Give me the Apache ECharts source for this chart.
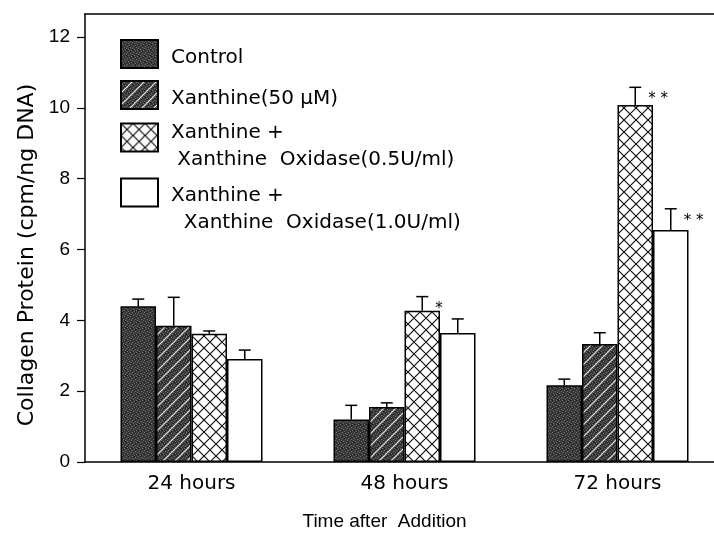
<!DOCTYPE html>
<html>
<head>
<meta charset="utf-8">
<script src="https://cdn.jsdelivr.net/npm/echarts@6/dist/echarts.min.js"></script>
<style>
  html, body { margin: 0; padding: 0; background: #fff; }
  #chart { width: 714px; height: 533px; }
</style>
</head>
<body>
<div id="chart"></div>
<script>
// Collagen protein vs time after addition

const categories = ['24 hours', '48 hours', '72 hours'];
const seriesNames = [
    'Control',
    'Xanthine(50 µM)',
    'Xanthine + Xanthine Oxidase(0.5U/ml)',
    'Xanthine + Xanthine Oxidase(1.0U/ml)'
];
const controlVals = [4.4, 1.2, 2.17];
const controlErr = [0.2, 0.4, 0.17];
const xanthineVals = [3.85, 1.55, 3.33];
const xanthineErr = [0.8, 0.12, 0.32];
const xo05Vals = [3.62, 4.27, 10.08];
const xo05Err = [0.08, 0.4, 0.5];
const xo10Vals = [2.91, 3.64, 6.55];
const xo10Err = [0.25, 0.4, 0.6];
const xo05Stars = ['', '*', '**'];
const xo10Stars = ['', '', '**'];
const yTicks = [0, 2, 4, 6, 8, 10, 12];

const BAR_W = 35.5;
const TEXT_FONT = 'DejaVu Sans';

// Build a small repeating canvas for bar fills
function makePattern(size, draw) {
    const c = document.createElement('canvas');
    c.width = size;
    c.height = size;
    draw(c.getContext('2d'), size);
    return c;
}

function halftone(ctx, size) {
    ctx.fillStyle = '#3a3a3a';
    ctx.fillRect(0, 0, size, size);
    ctx.fillStyle = '#6e6e6e';
    [[0, 0], [3, 1], [1, 3], [4, 4], [2, 5], [5, 2]].forEach(p => {
        if (p[0] < size && p[1] < size) ctx.fillRect(p[0], p[1], 1, 1);
    });
    ctx.fillStyle = '#1c1c1c';
    [[2, 0], [5, 3], [0, 4], [3, 5]].forEach(p => {
        if (p[0] < size && p[1] < size) ctx.fillRect(p[0], p[1], 1, 1);
    });
}

const controlFill = makePattern(6, halftone);

const xanthineFill = makePattern(12, (ctx, s) => {
    for (let x = 0; x < s; x += 6) {
        for (let y = 0; y < s; y += 6) {
            ctx.drawImage(controlFill, x, y);
        }
    }
    ctx.strokeStyle = '#e8e8e8';
    ctx.lineWidth = 1.1;
    ctx.beginPath();
    ctx.moveTo(0, s); ctx.lineTo(s, 0);
    ctx.moveTo(-2, 2); ctx.lineTo(2, -2);
    ctx.moveTo(s - 2, s + 2); ctx.lineTo(s + 2, s - 2);
    ctx.stroke();
});

const crossFill = makePattern(12, (ctx, s) => {
    ctx.fillStyle = '#fff';
    ctx.fillRect(0, 0, s, s);
    ctx.strokeStyle = '#111';
    ctx.lineWidth = 1.2;
    ctx.beginPath();
    ctx.moveTo(0, 0); ctx.lineTo(s, s);
    ctx.moveTo(0, s); ctx.lineTo(s, 0);
    ctx.stroke();
});

const fills = [
    { image: controlFill, repeat: 'repeat' },
    { image: xanthineFill, repeat: 'repeat' },
    { image: crossFill, repeat: 'repeat' },
    '#ffffff'
];
const values = [controlVals, xanthineVals, xo05Vals, xo10Vals];
const errors = [controlErr, xanthineErr, xo05Err, xo10Err];
const stars = [null, null, xo05Stars, xo10Stars];

function barSeries(idx) {
    return {
        name: seriesNames[idx],
        type: 'bar',
        barWidth: BAR_W,
        barGap: '0%',
        data: values[idx],
        itemStyle: {
            color: fills[idx],
            borderColor: '#000',
            borderWidth: 1.5
        },
        emphasis: { disabled: true }
    };
}

// Upward error bar with cap, plus significance marks
function errorSeries(idx) {
    const vals = values[idx];
    const errs = errors[idx];
    const marks = stars[idx];
    return {
        type: 'custom',
        silent: true,
        z: 5,
        data: vals.map((v, i) => [i, v, errs[i]]),
        encode: { x: 0, y: 1 },
        renderItem: function (params, api) {
            const base = api.coord([api.value(0), api.value(1)]);
            const top = api.coord([api.value(0), api.value(1) + api.value(2)]);
            const x = base[0] + (idx - 1.5) * BAR_W;
            const children = [
                { type: 'line', shape: { x1: x, y1: base[1], x2: x, y2: top[1] },
                  style: { stroke: '#000', lineWidth: 1.5 } },
                { type: 'line', shape: { x1: x - 6, y1: top[1], x2: x + 6, y2: top[1] },
                  style: { stroke: '#000', lineWidth: 1.5 } }
            ];
            const s = marks ? marks[params.dataIndex] : '';
            if (s) {
                children.push({
                    type: 'text',
                    style: {
                        text: s.split('').join(' '),
                        x: x + 13,
                        y: top[1] + 12,
                        font: '15px ' + TEXT_FONT,
                        fill: '#000',
                        verticalAlign: 'middle'
                    }
                });
            }
            return { type: 'group', children: children };
        }
    };
}

// One legend per entry so each box sits where the original has it.
// A thin spacer line above the label pushes the text below the box centre.
function legendFor(idx, boxTop, padTop, lines) {
    const text = '{pad| }\n' + lines.map(l => '{t|' + l + '}').join('\n');
    return {
        show: true,
        data: [seriesNames[idx]],
        left: 120,
        top: boxTop - Math.max(0, (lines.length * 27 - 28) / 2),
        padding: 0,
        orient: 'vertical',
        icon: 'rect',
        itemWidth: 37,
        itemHeight: 28,
        selectedMode: false,
        formatter: () => text,
        textStyle: {
            color: '#000',
            padding: [0, 0, 0, 8],
            rich: {
                pad: { fontSize: 1, lineHeight: padTop },
                t: { fontFamily: TEXT_FONT, fontSize: 20, lineHeight: 27, color: '#000' }
            }
        }
    };
}

const chart = echarts.init(document.getElementById('chart'));

const option = {
    backgroundColor: '#fff',
    animation: false,
    grid: { left: 85, width: 639, top: 14, bottom: 71, outerBoundsMode: 'none' },
    legend: [
        legendFor(0, 39, 8, ['Control']),
        legendFor(1, 80, 8, ['Xanthine(50 µM)']),
        legendFor(2, 123, 17, ['Xanthine +', ' Xanthine  Oxidase(0.5U/ml)']),
        legendFor(3, 178, 33, ['Xanthine +', '  Xanthine  Oxidase(1.0U/ml)'])
    ],
    xAxis: [
        {
            type: 'category',
            data: categories,
            axisTick: { show: false },
            axisLine: { lineStyle: { color: '#000', width: 1.5 } },
            axisLabel: {
                color: '#000',
                fontFamily: TEXT_FONT,
                fontSize: 20,
                margin: 12
            },
            name: 'Time after  Addition',
            nameLocation: 'middle',
            nameGap: 50,
            nameTextStyle: {
                color: '#000',
                fontFamily: 'Liberation Sans',
                fontSize: 19,
                padding: [0, 40, 0, 0]
            }
        },
        {
            type: 'category',
            position: 'top',
            data: categories,
            axisTick: { show: false },
            axisLabel: { show: false },
            axisLine: { lineStyle: { color: '#000', width: 1.5 } }
        }
    ],
    yAxis: {
        type: 'value',
        min: 0,
        max: 12.65,
        splitLine: { show: false },
        axisLine: { show: true, lineStyle: { color: '#000', width: 1.5 } },
        axisTick: {
            show: true,
            length: 8,
            customValues: yTicks,
            lineStyle: { color: '#000', width: 1.2 }
        },
        axisLabel: {
            customValues: yTicks,
            color: '#000',
            fontFamily: 'Liberation Sans',
            fontSize: 19,
            margin: 15
        },
        name: 'Collagen Protein (cpm/ng DNA)',
        nameLocation: 'middle',
        nameGap: 46,
        nameTextStyle: {
            color: '#000',
            fontFamily: TEXT_FONT,
            fontSize: 22,
            padding: [0, 34, 0, 0]
        }
    },
    series: [
        barSeries(0), barSeries(1), barSeries(2), barSeries(3),
        errorSeries(0), errorSeries(1), errorSeries(2), errorSeries(3)
    ]
};

chart.setOption(option);
</script>
</body>
</html>
